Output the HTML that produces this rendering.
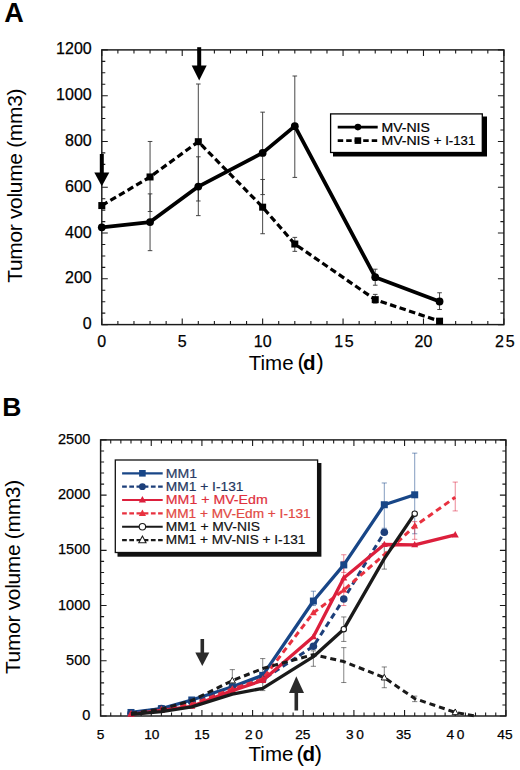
<!DOCTYPE html><html><head><meta charset="utf-8"><style>html,body{margin:0;padding:0;background:#fff;}svg{display:block;}text{font-family:"Liberation Sans", sans-serif;}</style></head><body>
<svg width="520" height="770" viewBox="0 0 520 770">
<rect width="520" height="770" fill="#fff"/>
<text x="4.3" y="22" font-size="27" text-anchor="start" font-weight="bold" fill="#000">A</text>
<rect x="101.8" y="49.9" width="402.1" height="274.7" fill="none" stroke="#1a1a1a" stroke-width="1.45"/>
<path d="M101.8 324.6v-6M101.8 49.9v6M117.88 324.6v-3.5M117.88 49.9v3.5M133.97 324.6v-3.5M133.97 49.9v3.5M150.05 324.6v-3.5M150.05 49.9v3.5M166.14 324.6v-3.5M166.14 49.9v3.5M182.22 324.6v-6M182.22 49.9v6M198.3 324.6v-3.5M198.3 49.9v3.5M214.39 324.6v-3.5M214.39 49.9v3.5M230.47 324.6v-3.5M230.47 49.9v3.5M246.56 324.6v-3.5M246.56 49.9v3.5M262.64 324.6v-6M262.64 49.9v6M278.72 324.6v-3.5M278.72 49.9v3.5M294.81 324.6v-3.5M294.81 49.9v3.5M310.89 324.6v-3.5M310.89 49.9v3.5M326.98 324.6v-3.5M326.98 49.9v3.5M343.06 324.6v-6M343.06 49.9v6M359.14 324.6v-3.5M359.14 49.9v3.5M375.23 324.6v-3.5M375.23 49.9v3.5M391.31 324.6v-3.5M391.31 49.9v3.5M407.4 324.6v-3.5M407.4 49.9v3.5M423.48 324.6v-6M423.48 49.9v6M439.56 324.6v-3.5M439.56 49.9v3.5M455.65 324.6v-3.5M455.65 49.9v3.5M471.73 324.6v-3.5M471.73 49.9v3.5M487.82 324.6v-3.5M487.82 49.9v3.5M503.9 324.6v-6M503.9 49.9v6M101.8 324.6h6M503.9 324.6h-6M101.8 313.15h3.5M503.9 313.15h-3.5M101.8 301.71h3.5M503.9 301.71h-3.5M101.8 290.26h3.5M503.9 290.26h-3.5M101.8 278.82h6M503.9 278.82h-6M101.8 267.37h3.5M503.9 267.37h-3.5M101.8 255.93h3.5M503.9 255.93h-3.5M101.8 244.48h3.5M503.9 244.48h-3.5M101.8 233.03h6M503.9 233.03h-6M101.8 221.59h3.5M503.9 221.59h-3.5M101.8 210.14h3.5M503.9 210.14h-3.5M101.8 198.7h3.5M503.9 198.7h-3.5M101.8 187.25h6M503.9 187.25h-6M101.8 175.8h3.5M503.9 175.8h-3.5M101.8 164.36h3.5M503.9 164.36h-3.5M101.8 152.91h3.5M503.9 152.91h-3.5M101.8 141.47h6M503.9 141.47h-6M101.8 130.02h3.5M503.9 130.02h-3.5M101.8 118.57h3.5M503.9 118.57h-3.5M101.8 107.13h3.5M503.9 107.13h-3.5M101.8 95.68h6M503.9 95.68h-6M101.8 84.24h3.5M503.9 84.24h-3.5M101.8 72.79h3.5M503.9 72.79h-3.5M101.8 61.35h3.5M503.9 61.35h-3.5M101.8 49.9h6M503.9 49.9h-6" stroke="#1a1a1a" stroke-width="1.1" fill="none"/>
<text x="91.7" y="329.1" font-size="16" text-anchor="end" font-weight="normal" fill="#000" stroke="#000" stroke-width="0.25">0</text>
<text x="91.7" y="283.32" font-size="16" text-anchor="end" font-weight="normal" fill="#000" stroke="#000" stroke-width="0.25">200</text>
<text x="91.7" y="237.53" font-size="16" text-anchor="end" font-weight="normal" fill="#000" stroke="#000" stroke-width="0.25">400</text>
<text x="91.7" y="191.75" font-size="16" text-anchor="end" font-weight="normal" fill="#000" stroke="#000" stroke-width="0.25">600</text>
<text x="91.7" y="145.97" font-size="16" text-anchor="end" font-weight="normal" fill="#000" stroke="#000" stroke-width="0.25">800</text>
<text x="91.7" y="100.18" font-size="16" text-anchor="end" font-weight="normal" fill="#000" stroke="#000" stroke-width="0.25">1000</text>
<text x="91.7" y="54.4" font-size="16" text-anchor="end" font-weight="normal" fill="#000" stroke="#000" stroke-width="0.25">1200</text>
<text x="101.8" y="346.8" font-size="16" text-anchor="middle" font-weight="normal" fill="#000" letter-spacing="0" stroke="#000" stroke-width="0.25">0</text>
<text x="182.22" y="346.8" font-size="16" text-anchor="middle" font-weight="normal" fill="#000" letter-spacing="0" stroke="#000" stroke-width="0.25">5</text>
<text x="262.64" y="346.8" font-size="16" text-anchor="middle" font-weight="normal" fill="#000" letter-spacing="0" stroke="#000" stroke-width="0.25">10</text>
<text x="344.71" y="346.8" font-size="16" text-anchor="middle" font-weight="normal" fill="#000" letter-spacing="1.5" stroke="#000" stroke-width="0.25">15</text>
<text x="423.48" y="346.8" font-size="16" text-anchor="middle" font-weight="normal" fill="#000" letter-spacing="0" stroke="#000" stroke-width="0.25">20</text>
<text x="505.8" y="346.8" font-size="16" text-anchor="middle" font-weight="normal" fill="#000" letter-spacing="2.0" stroke="#000" stroke-width="0.25">25</text>
<text x="248.8" y="370.2" font-size="20.5" text-anchor="start" font-weight="normal" fill="#000">Time</text>
<text x="297.5" y="368.6" font-size="22.5" text-anchor="start" font-weight="normal" fill="#000">(</text>
<text x="303" y="370.2" font-size="20.5" text-anchor="start" font-weight="bold" fill="#000">d</text>
<text x="316.3" y="368.6" font-size="22.5" text-anchor="start" font-weight="normal" fill="#000">)</text>
<text transform="translate(21.8 282.8) rotate(-90)" font-size="21" letter-spacing="-0.33" fill="#000">Tumor volume (mm3)</text>
<path d="M150.05 250.66V193.89M147.75 250.66h4.6M147.75 193.89h4.6" stroke="#333" stroke-width="0.9" fill="none" stroke-opacity="1.0"/>
<path d="M198.3 215.64V156.8M196 215.64h4.6M196 156.8h4.6" stroke="#333" stroke-width="0.9" fill="none" stroke-opacity="1.0"/>
<path d="M262.64 194.58V112.17M260.34 194.58h4.6M260.34 112.17h4.6" stroke="#333" stroke-width="0.9" fill="none" stroke-opacity="1.0"/>
<path d="M294.81 177.41V76M292.51 177.41h4.6M292.51 76h4.6" stroke="#333" stroke-width="0.9" fill="none" stroke-opacity="1.0"/>
<path d="M375.23 285.23V269.2M372.93 285.23h4.6M372.93 269.2h4.6" stroke="#333" stroke-width="0.9" fill="none" stroke-opacity="1.0"/>
<path d="M439.56 309.49V292.78M437.26 309.49h4.6M437.26 292.78h4.6" stroke="#333" stroke-width="0.9" fill="none" stroke-opacity="1.0"/>
<path d="M150.05 211.52V141.47M147.75 211.52h4.6M147.75 141.47h4.6" stroke="#333" stroke-width="0.9" fill="none" stroke-opacity="1.0"/>
<path d="M198.3 200.99V84.01M196 200.99h4.6M196 84.01h4.6" stroke="#333" stroke-width="0.9" fill="none" stroke-opacity="1.0"/>
<path d="M262.64 233.72V179.47M260.34 233.72h4.6M260.34 179.47h4.6" stroke="#333" stroke-width="0.9" fill="none" stroke-opacity="1.0"/>
<path d="M294.81 251.35V237.38M292.51 251.35h4.6M292.51 237.38h4.6" stroke="#333" stroke-width="0.9" fill="none" stroke-opacity="1.0"/>
<path d="M375.23 303.08V294.38M372.93 303.08h4.6M372.93 294.38h4.6" stroke="#333" stroke-width="0.9" fill="none" stroke-opacity="1.0"/>
<path d="M101.8 227.31L150.05 222.05L198.3 186.56L262.64 152.91L294.81 126.13L375.23 277.21L439.56 301.48" stroke="#000" stroke-width="3.8" fill="none" stroke-linejoin="round"/>
<path d="M101.8 205.56L150.05 176.95L198.3 141.7L262.64 207.17L294.81 244.02L375.23 299.65L439.56 321.17" stroke="#000" stroke-width="3.2" fill="none" stroke-linejoin="round" stroke-dasharray="6.5 3.5"/>
<circle cx="101.8" cy="227.31" r="3.9" fill="#000"/>
<circle cx="150.05" cy="222.05" r="3.9" fill="#000"/>
<circle cx="198.3" cy="186.56" r="3.9" fill="#000"/>
<circle cx="262.64" cy="152.91" r="3.9" fill="#000"/>
<circle cx="294.81" cy="126.13" r="3.9" fill="#000"/>
<circle cx="375.23" cy="277.21" r="3.9" fill="#000"/>
<circle cx="439.56" cy="301.48" r="3.9" fill="#000"/>
<rect x="98.3" y="202.06" width="7" height="7" fill="#000"/>
<rect x="146.55" y="173.45" width="7" height="7" fill="#000"/>
<rect x="194.8" y="138.2" width="7" height="7" fill="#000"/>
<rect x="259.14" y="203.67" width="7" height="7" fill="#000"/>
<rect x="291.31" y="240.52" width="7" height="7" fill="#000"/>
<rect x="371.73" y="296.15" width="7" height="7" fill="#000"/>
<rect x="436.06" y="317.67" width="7" height="7" fill="#000"/>
<rect x="99.8" y="154" width="4" height="19.5" fill="#000"/>
<path d="M94.3 172.5L109.3 172.5L101.8 186.3Z" fill="#000"/>
<rect x="197.2" y="47.2" width="4" height="19.2" fill="#000"/>
<path d="M191.7 65.4L206.7 65.4L199.2 80.4Z" fill="#000"/>
<rect x="333" y="116.5" width="154" height="40" fill="#000"/>
<rect x="330.6" y="113.9" width="151.7" height="38.6" fill="#fff" stroke="#000" stroke-width="1.3"/>
<path d="M337.7 127.1L377.7 127.1" stroke="#000" stroke-width="2.6" fill="none" stroke-linejoin="round"/>
<circle cx="357.9" cy="127.1" r="3.3" fill="#000"/>
<path d="M337.7 140.6L377.7 140.6" stroke="#000" stroke-width="2.6" fill="none" stroke-linejoin="round" stroke-dasharray="5.5 3"/>
<rect x="354.6" y="137.3" width="6.6" height="6.6" fill="#000"/>
<text transform="translate(381.4 131.8) scale(1.068 1)" font-size="13.2" font-weight="normal" fill="#000" stroke="#000" stroke-width="0.22">MV-NIS</text>
<text transform="translate(381.4 144.9) scale(1.068 1)" font-size="13.2" font-weight="normal" fill="#000" stroke="#000" stroke-width="0.22">MV-NIS</text>
<text transform="translate(433.8 144.9) scale(1.0 1)" font-size="13.2" font-weight="normal" fill="#000" stroke="#000" stroke-width="0.22">+ I-131</text>
<text x="2.3" y="415.8" font-size="26.5" text-anchor="start" font-weight="bold" fill="#000">B</text>
<rect x="100.6" y="439.9" width="405.3" height="276.1" fill="none" stroke="#1a1a1a" stroke-width="1.45"/>
<path d="M100.6 716v-6M100.6 439.9v6M110.73 716v-3.5M110.73 439.9v3.5M120.86 716v-3.5M120.86 439.9v3.5M131 716v-3.5M131 439.9v3.5M141.13 716v-3.5M141.13 439.9v3.5M151.26 716v-6M151.26 439.9v6M161.39 716v-3.5M161.39 439.9v3.5M171.53 716v-3.5M171.53 439.9v3.5M181.66 716v-3.5M181.66 439.9v3.5M191.79 716v-3.5M191.79 439.9v3.5M201.92 716v-6M201.92 439.9v6M212.06 716v-3.5M212.06 439.9v3.5M222.19 716v-3.5M222.19 439.9v3.5M232.32 716v-3.5M232.32 439.9v3.5M242.45 716v-3.5M242.45 439.9v3.5M252.59 716v-6M252.59 439.9v6M262.72 716v-3.5M262.72 439.9v3.5M272.85 716v-3.5M272.85 439.9v3.5M282.99 716v-3.5M282.99 439.9v3.5M293.12 716v-3.5M293.12 439.9v3.5M303.25 716v-6M303.25 439.9v6M313.38 716v-3.5M313.38 439.9v3.5M323.51 716v-3.5M323.51 439.9v3.5M333.65 716v-3.5M333.65 439.9v3.5M343.78 716v-3.5M343.78 439.9v3.5M353.91 716v-6M353.91 439.9v6M364.04 716v-3.5M364.04 439.9v3.5M374.18 716v-3.5M374.18 439.9v3.5M384.31 716v-3.5M384.31 439.9v3.5M394.44 716v-3.5M394.44 439.9v3.5M404.57 716v-6M404.57 439.9v6M414.71 716v-3.5M414.71 439.9v3.5M424.84 716v-3.5M424.84 439.9v3.5M434.97 716v-3.5M434.97 439.9v3.5M445.11 716v-3.5M445.11 439.9v3.5M455.24 716v-6M455.24 439.9v6M465.37 716v-3.5M465.37 439.9v3.5M475.5 716v-3.5M475.5 439.9v3.5M485.63 716v-3.5M485.63 439.9v3.5M495.77 716v-3.5M495.77 439.9v3.5M505.9 716v-6M505.9 439.9v6M100.6 716h6M505.9 716h-6M100.6 704.96h3.5M505.9 704.96h-3.5M100.6 693.91h3.5M505.9 693.91h-3.5M100.6 682.87h3.5M505.9 682.87h-3.5M100.6 671.82h3.5M505.9 671.82h-3.5M100.6 660.78h6M505.9 660.78h-6M100.6 649.74h3.5M505.9 649.74h-3.5M100.6 638.69h3.5M505.9 638.69h-3.5M100.6 627.65h3.5M505.9 627.65h-3.5M100.6 616.6h3.5M505.9 616.6h-3.5M100.6 605.56h6M505.9 605.56h-6M100.6 594.52h3.5M505.9 594.52h-3.5M100.6 583.47h3.5M505.9 583.47h-3.5M100.6 572.43h3.5M505.9 572.43h-3.5M100.6 561.38h3.5M505.9 561.38h-3.5M100.6 550.34h6M505.9 550.34h-6M100.6 539.3h3.5M505.9 539.3h-3.5M100.6 528.25h3.5M505.9 528.25h-3.5M100.6 517.21h3.5M505.9 517.21h-3.5M100.6 506.16h3.5M505.9 506.16h-3.5M100.6 495.12h6M505.9 495.12h-6M100.6 484.08h3.5M505.9 484.08h-3.5M100.6 473.03h3.5M505.9 473.03h-3.5M100.6 461.99h3.5M505.9 461.99h-3.5M100.6 450.94h3.5M505.9 450.94h-3.5M100.6 439.9h6M505.9 439.9h-6" stroke="#1a1a1a" stroke-width="1.1" fill="none"/>
<text x="90.3" y="720" font-size="14.5" text-anchor="end" font-weight="normal" fill="#000" stroke="#000" stroke-width="0.25">0</text>
<text x="90.3" y="664.78" font-size="14.5" text-anchor="end" font-weight="normal" fill="#000" stroke="#000" stroke-width="0.25">500</text>
<text x="90.3" y="609.56" font-size="14.5" text-anchor="end" font-weight="normal" fill="#000" stroke="#000" stroke-width="0.25">1000</text>
<text x="90.3" y="554.34" font-size="14.5" text-anchor="end" font-weight="normal" fill="#000" stroke="#000" stroke-width="0.25">1500</text>
<text x="90.3" y="499.12" font-size="14.5" text-anchor="end" font-weight="normal" fill="#000" stroke="#000" stroke-width="0.25">2000</text>
<text x="90.3" y="443.9" font-size="14.5" text-anchor="end" font-weight="normal" fill="#000" stroke="#000" stroke-width="0.25">2500</text>
<text x="100.6" y="738.6" font-size="13.7" text-anchor="middle" font-weight="normal" fill="#000" letter-spacing="0" stroke="#000" stroke-width="0.25">5</text>
<text x="151.86" y="738.6" font-size="13.7" text-anchor="middle" font-weight="normal" fill="#000" letter-spacing="0" stroke="#000" stroke-width="0.25">10</text>
<text x="201.92" y="738.6" font-size="13.7" text-anchor="middle" font-weight="normal" fill="#000" letter-spacing="0" stroke="#000" stroke-width="0.25">15</text>
<text x="255.19" y="738.6" font-size="13.7" text-anchor="middle" font-weight="normal" fill="#000" letter-spacing="2.6" stroke="#000" stroke-width="0.25">20</text>
<text x="302.75" y="738.6" font-size="13.7" text-anchor="middle" font-weight="normal" fill="#000" letter-spacing="0" stroke="#000" stroke-width="0.25">25</text>
<text x="356.31" y="738.6" font-size="13.7" text-anchor="middle" font-weight="normal" fill="#000" letter-spacing="2.6" stroke="#000" stroke-width="0.25">30</text>
<text x="403.57" y="738.6" font-size="13.7" text-anchor="middle" font-weight="normal" fill="#000" letter-spacing="0" stroke="#000" stroke-width="0.25">35</text>
<text x="456.84" y="738.6" font-size="13.7" text-anchor="middle" font-weight="normal" fill="#000" letter-spacing="2.6" stroke="#000" stroke-width="0.25">40</text>
<text x="504.9" y="738.6" font-size="13.7" text-anchor="middle" font-weight="normal" fill="#000" letter-spacing="0" stroke="#000" stroke-width="0.25">45</text>
<text x="248.6" y="761.4" font-size="20.5" text-anchor="start" font-weight="normal" fill="#000">Time</text>
<text x="296.5" y="760.7" font-size="22.5" text-anchor="start" font-weight="normal" fill="#000">(</text>
<text x="302.4" y="761.4" font-size="20.5" text-anchor="start" font-weight="bold" fill="#000">d</text>
<text x="314.4" y="760.7" font-size="22.5" text-anchor="start" font-weight="normal" fill="#000">)</text>
<text transform="translate(20.2 674.1) rotate(-90)" font-size="21" letter-spacing="-0.33" fill="#000">Tumor volume (mm3)</text>
<path d="M313.38 605.56V591.2M310.78 605.56h5.2M310.78 591.2h5.2" stroke="#184687" stroke-width="0.9" fill="none" stroke-opacity="0.6"/>
<path d="M343.78 572.43V554.76M341.18 572.43h5.2M341.18 554.76h5.2" stroke="#dc1f3c" stroke-width="0.9" fill="none" stroke-opacity="0.6"/>
<path d="M384.31 528.25V482.97M381.71 528.25h5.2M381.71 482.97h5.2" stroke="#184687" stroke-width="0.9" fill="none" stroke-opacity="0.6"/>
<path d="M414.71 533.77V453.15M412.11 533.77h5.2M412.11 453.15h5.2" stroke="#184687" stroke-width="0.9" fill="none" stroke-opacity="0.6"/>
<path d="M455.24 510.91V482.09M452.64 510.91h5.2M452.64 482.09h5.2" stroke="#dc1f3c" stroke-width="0.9" fill="none" stroke-opacity="0.6"/>
<path d="M343.78 605.56V561.38M341.18 605.56h5.2M341.18 561.38h5.2" stroke="#dc1f3c" stroke-width="0.9" fill="none" stroke-opacity="0.6"/>
<path d="M384.31 569.11V543.71M381.71 569.11h5.2M381.71 543.71h5.2" stroke="#1a1a1a" stroke-width="0.9" fill="none" stroke-opacity="0.6"/>
<path d="M414.71 539.3V521.63M412.11 539.3h5.2M412.11 521.63h5.2" stroke="#dc1f3c" stroke-width="0.9" fill="none" stroke-opacity="0.6"/>
<path d="M232.32 685.08V669.62M229.72 685.08h5.2M229.72 669.62h5.2" stroke="#1a1a1a" stroke-width="0.9" fill="none" stroke-opacity="0.6"/>
<path d="M262.72 672.93V658.57M260.12 672.93h5.2M260.12 658.57h5.2" stroke="#1a1a1a" stroke-width="0.9" fill="none" stroke-opacity="0.6"/>
<path d="M313.38 666.3V650.84M310.78 666.3h5.2M310.78 650.84h5.2" stroke="#1a1a1a" stroke-width="0.9" fill="none" stroke-opacity="0.6"/>
<path d="M343.78 682.54V647.64M341.18 682.54h5.2M341.18 647.64h5.2" stroke="#1a1a1a" stroke-width="0.9" fill="none" stroke-opacity="0.6"/>
<path d="M384.31 687.73V666.96M381.71 687.73h5.2M381.71 666.96h5.2" stroke="#1a1a1a" stroke-width="0.9" fill="none" stroke-opacity="0.6"/>
<path d="M414.71 701.64V696.12M412.11 701.64h5.2M412.11 696.12h5.2" stroke="#1a1a1a" stroke-width="0.9" fill="none" stroke-opacity="0.6"/>
<path d="M343.78 641.45V616.94M341.18 641.45h5.2M341.18 616.94h5.2" stroke="#1a1a1a" stroke-width="0.9" fill="none" stroke-opacity="0.6"/>
<path d="M262.72 690.6V681.76M260.12 690.6h5.2M260.12 681.76h5.2" stroke="#1a1a1a" stroke-width="0.9" fill="none" stroke-opacity="0.6"/>
<path d="M131 712.47L161.39 708.71L191.79 699.99L232.32 686.73L262.72 675.36L313.38 601.03L343.78 564.92L384.31 504.73L414.71 494.79" stroke="#184687" stroke-width="3.3" fill="none" stroke-linejoin="round"/>
<rect x="127.5" y="708.97" width="7" height="7" fill="#184687"/>
<rect x="157.89" y="705.21" width="7" height="7" fill="#184687"/>
<rect x="188.29" y="696.49" width="7" height="7" fill="#184687"/>
<rect x="228.82" y="683.23" width="7" height="7" fill="#184687"/>
<rect x="259.22" y="671.86" width="7" height="7" fill="#184687"/>
<rect x="309.88" y="597.53" width="7" height="7" fill="#184687"/>
<rect x="340.28" y="561.42" width="7" height="7" fill="#184687"/>
<rect x="380.81" y="501.23" width="7" height="7" fill="#184687"/>
<rect x="411.21" y="491.29" width="7" height="7" fill="#184687"/>
<path d="M131 713.24L161.39 708.49L191.79 701.86L232.32 688.39L262.72 679.55L313.38 646.31L343.78 598.93L384.31 532.23" stroke="#1d3f7a" stroke-width="3.0" fill="none" stroke-linejoin="round" stroke-dasharray="6 4"/>
<circle cx="131" cy="713.24" r="3.8" fill="#1d3f7a"/>
<circle cx="161.39" cy="708.49" r="3.8" fill="#1d3f7a"/>
<circle cx="191.79" cy="701.86" r="3.8" fill="#1d3f7a"/>
<circle cx="232.32" cy="688.39" r="3.8" fill="#1d3f7a"/>
<circle cx="262.72" cy="679.55" r="3.8" fill="#1d3f7a"/>
<circle cx="313.38" cy="646.31" r="3.8" fill="#1d3f7a"/>
<circle cx="343.78" cy="598.93" r="3.8" fill="#1d3f7a"/>
<circle cx="384.31" cy="532.23" r="3.8" fill="#1d3f7a"/>
<path d="M131 713.79L161.39 709.59L191.79 704.4L232.32 688.94L262.72 679L313.38 612.74L343.78 590.1L384.31 554.54L414.71 526.04L455.24 497.33" stroke="#e8313f" stroke-width="3.0" fill="none" stroke-linejoin="round" stroke-dasharray="6 4"/>
<path d="M131 709.99L134.5 716.29L127.5 716.29Z" fill="#e8313f"/>
<path d="M161.39 705.79L164.89 712.09L157.89 712.09Z" fill="#e8313f"/>
<path d="M191.79 700.6L195.29 706.9L188.29 706.9Z" fill="#e8313f"/>
<path d="M232.32 685.14L235.82 691.44L228.82 691.44Z" fill="#e8313f"/>
<path d="M262.72 675.2L266.22 681.5L259.22 681.5Z" fill="#e8313f"/>
<path d="M313.38 608.94L316.88 615.24L309.88 615.24Z" fill="#e8313f"/>
<path d="M343.78 586.3L347.28 592.6L340.28 592.6Z" fill="#e8313f"/>
<path d="M414.71 522.24L418.21 528.54L411.21 528.54Z" fill="#e8313f"/>
<path d="M131 714.34L161.39 710.48L191.79 706.28L232.32 690.6L262.72 680.44L313.38 636.7L343.78 577.95L384.31 544.49L414.71 544.82L455.24 534.88" stroke="#dc1f3c" stroke-width="3.3" fill="none" stroke-linejoin="round"/>
<path d="M131 710.54L134.5 716.84L127.5 716.84Z" fill="#dc1f3c"/>
<path d="M161.39 706.68L164.89 712.98L157.89 712.98Z" fill="#dc1f3c"/>
<path d="M191.79 702.48L195.29 708.78L188.29 708.78Z" fill="#dc1f3c"/>
<path d="M232.32 686.8L235.82 693.1L228.82 693.1Z" fill="#dc1f3c"/>
<path d="M262.72 676.64L266.22 682.94L259.22 682.94Z" fill="#dc1f3c"/>
<path d="M313.38 632.9L316.88 639.2L309.88 639.2Z" fill="#dc1f3c"/>
<path d="M343.78 574.15L347.28 580.45L340.28 580.45Z" fill="#dc1f3c"/>
<path d="M384.31 540.69L387.81 546.99L380.81 546.99Z" fill="#dc1f3c"/>
<path d="M414.71 541.02L418.21 547.32L411.21 547.32Z" fill="#dc1f3c"/>
<path d="M455.24 531.08L458.74 537.38L451.74 537.38Z" fill="#dc1f3c"/>
<path d="M131 713.24L161.39 709.15L191.79 700.54L232.32 680.66L262.72 668.51L313.38 654.6L343.78 661.55L384.31 677.68L414.71 698.55L455.24 712.36L475.5 716" stroke="#1a1a1a" stroke-width="3.0" fill="none" stroke-linejoin="round" stroke-dasharray="6 4"/>
<path d="M232.32 677.26L235.42 682.96L229.22 682.96Z" fill="#fff" stroke="#1a1a1a" stroke-width="1"/>
<path d="M384.31 674.28L387.41 679.98L381.21 679.98Z" fill="#fff" stroke="#1a1a1a" stroke-width="1"/>
<path d="M455.24 708.96L458.34 714.66L452.14 714.66Z" fill="#fff" stroke="#1a1a1a" stroke-width="1"/>
<path d="M131 714.34L161.39 711.58L191.79 706.94L232.32 694.13L262.72 688.39L313.38 656.69L343.78 629.19L384.31 558.62L414.71 513.67" stroke="#1a1a1a" stroke-width="3.3" fill="none" stroke-linejoin="round"/>
<circle cx="343.78" cy="629.19" r="2.7" fill="#fff" stroke="#1a1a1a" stroke-width="1.1"/>
<circle cx="414.71" cy="513.67" r="2.7" fill="#fff" stroke="#1a1a1a" stroke-width="1.1"/>
<rect x="200.5" y="639" width="3.6" height="14.5" fill="#2a2a2a"/>
<path d="M195.3 652.5L209.3 652.5L202.3 666Z" fill="#2a2a2a"/>
<rect x="294.5" y="691" width="3.6" height="19.5" fill="#2a2a2a"/>
<path d="M289 693L304 693L296.3 676.2Z" fill="#2a2a2a"/>
<rect x="117.5" y="463" width="203.9" height="93.7" fill="#111"/>
<rect x="115.3" y="460" width="202.3" height="92.5" fill="#fff" stroke="#111" stroke-width="1.3"/>
<path d="M122.1 473.3L162.7 473.3" stroke="#184687" stroke-width="2.2" fill="none" stroke-linejoin="round"/>
<rect x="139.1" y="470" width="6.6" height="6.6" fill="#184687"/>
<text transform="translate(165.8 477.6) scale(1.07 1)" font-size="13.2" font-weight="normal" fill="#2b3d66" stroke="#2b3d66" stroke-width="0.2">MM1</text>
<path d="M122.1 486.66L162.7 486.66" stroke="#1d3f7a" stroke-width="2.2" fill="none" stroke-linejoin="round" stroke-dasharray="4.7 2.5"/>
<circle cx="142.4" cy="486.66" r="3.4" fill="#1d3f7a"/>
<text transform="translate(165.8 490.96) scale(1.044 1)" font-size="13.2" font-weight="normal" fill="#233660" stroke="#233660" stroke-width="0.2">MM1 + I-131</text>
<path d="M122.1 500.02L162.7 500.02" stroke="#dc1f3c" stroke-width="2.2" fill="none" stroke-linejoin="round"/>
<path d="M142.4 496.02L146 502.62L138.8 502.62Z" fill="#dc1f3c"/>
<text transform="translate(165.8 504.32) scale(1.073 1)" font-size="13.2" font-weight="normal" fill="#e0303c" stroke="#e0303c" stroke-width="0.2">MM1 + MV-Edm</text>
<path d="M122.1 513.38L162.7 513.38" stroke="#e8313f" stroke-width="2.2" fill="none" stroke-linejoin="round" stroke-dasharray="4.7 2.5"/>
<path d="M142.4 509.38L146 515.98L138.8 515.98Z" fill="#e8313f"/>
<text transform="translate(165.8 517.68) scale(1.035 1)" font-size="13.2" font-weight="normal" fill="#e24a44" stroke="#e24a44" stroke-width="0.2">MM1 + MV-Edm + I-131</text>
<path d="M122.1 526.74L162.7 526.74" stroke="#1a1a1a" stroke-width="2.2" fill="none" stroke-linejoin="round"/>
<circle cx="142.4" cy="526.74" r="3.2" fill="#fff" stroke="#1a1a1a" stroke-width="1.1"/>
<text transform="translate(165.8 531.04) scale(1.05 1)" font-size="13.2" font-weight="normal" fill="#111" stroke="#111" stroke-width="0.2">MM1 + MV-NIS</text>
<path d="M122.1 540.1L162.7 540.1" stroke="#1a1a1a" stroke-width="2.2" fill="none" stroke-linejoin="round" stroke-dasharray="4.7 2.5"/>
<path d="M142.4 536.1L146 542.7L138.8 542.7Z" fill="#fff" stroke="#1a1a1a" stroke-width="1.1"/>
<text transform="translate(165.8 544.4) scale(1.036 1)" font-size="13.2" font-weight="normal" fill="#111" stroke="#111" stroke-width="0.2">MM1 + MV-NIS + I-131</text>
</svg></body></html>
